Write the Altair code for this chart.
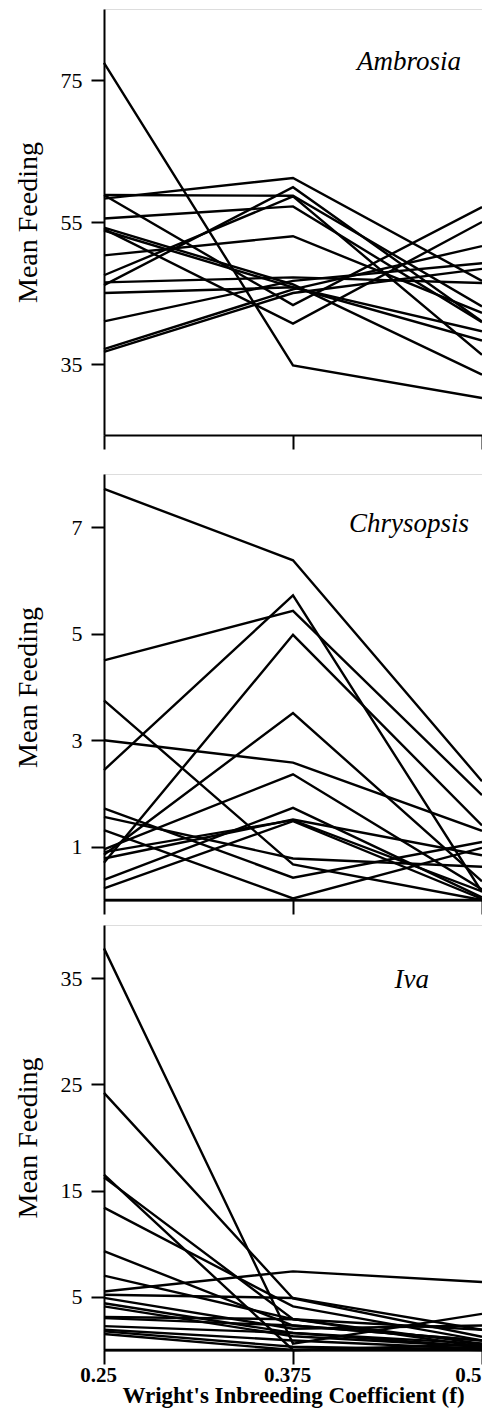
import altair as alt
import pandas as pd

F = [0.25, 0.375, 0.5]

# Ambrosia lines: values at f = 0.25, 0.375, 0.5
amb_025 = [77.4, 58.3, 58.8, 58.8, 55.5, 54.2, 54.0, 50.3, 47.5, 46.1, 46.5, 45.0, 41.0, 37.1, 36.7, 53.8]
amb_0375 = [34.8, 61.2, 58.7, 43.3, 57.2, 46.2, 40.7, 53.0, 58.6, 59.9, 47.2, 45.8, 46.7, 45.5, 45.0, 45.8]
amb_05 = [30.2, 46.7, 43.1, 57.1, 40.9, 33.5, 55.0, 42.2, 36.3, 41.0, 46.4, 38.3, 49.2, 51.6, 48.4, 39.6]

# Chrysopsis
chr_025 = [7.72, 4.5, 2.44, 0.7, 0.85, 3.0, 3.75, 0.95, 1.56, 0.38, 1.72, 1.31, 0.22, 0.78, 0.9, 0.0]
chr_0375 = [6.38, 5.43, 5.72, 4.98, 3.51, 2.58, 0.67, 2.36, 0.78, 1.73, 0.42, 0.03, 1.48, 1.51, 1.5, 0.0]
chr_05 = [2.23, 1.97, 0.15, 1.40, 0.35, 1.30, 0.0, 0.2, 0.625, 0.05, 1.09, 0.98, 0.02, 0.84, 0.16, 0.0]

# Iva
iva_025 = [37.8, 24.2, 16.5, 16.25, 13.4, 9.3, 7.0, 5.5, 5.2, 4.9, 4.4, 4.1, 3.1, 3.0, 2.25, 1.9, 1.75, 1.5, 0.0]
iva_0375 = [0.6, 4.85, 0.0, 2.9, 4.1, 2.3, 2.9, 7.4, 4.9, 2.0, 1.6, 1.3, 2.9, 2.3, 1.6, 0.9, 0.3, 0.0, 0.0]
iva_05 = [3.4, 1.25, 0.2, 0.6, 0.9, 0.9, 0.3, 6.4, 1.9, 2.3, 0.6, 0.3, 1.9, 0.9, 0.3, 0.1, 0.0, 0.5, 0.0]

SERIF = "Liberation Serif"


def long_df(a, b, c):
    rows = []
    for i, vals in enumerate(zip(a, b, c)):
        for f, v in zip(F, vals):
            rows.append({"line": i, "f": f, "value": v})
    return pd.DataFrame(rows)


def panel(df, name, ymin, ymax, yticks, height, show_x_labels, name_x, name_y):
    x_axis = alt.Axis(
        values=F,
        labels=show_x_labels,
        format=".3~f",
        title="Wright's Inbreeding Coefficient (f)" if show_x_labels else None,
        tickSize=14,
        tickWidth=2,
        domainWidth=2,
        domainColor="black",
        tickColor="black",
        grid=False,
        labelFont=SERIF,
        labelFontSize=21,
        labelFontWeight="bold",
        labelColor="black",
        labelPadding=0,
        labelAlign=alt.ConditionalAxisLabelAlign(
            condition={"test": "datum.value >= 0.5", "value": "right"}, value="center"
        ),
        labelOffset=alt.ConditionalAxisNumber(
            condition={"test": "datum.value >= 0.5", "value": -1}, value=-6
        ),
        titleFont=SERIF,
        titleFontSize=23,
        titleFontWeight="bold",
        titleColor="black",
        titlePadding=-1,
        labelFlush=False,
    )
    y_axis = alt.Axis(
        values=yticks,
        title="Mean Feeding",
        tickSize=13,
        tickWidth=2,
        domainWidth=2,
        domainColor="black",
        tickColor="black",
        grid=False,
        labelFont=SERIF,
        labelFontSize=22,
        labelColor="black",
        labelPadding=9,
        titleFont=SERIF,
        titleFontSize=28,
        titleFontWeight="normal",
        titleColor="black",
        titleX=-62,
        titleY=height / 2,
    )
    lines = alt.Chart(df).mark_line(color="black", strokeWidth=2.4).encode(
        x=alt.X("f:Q", scale=alt.Scale(domain=[0.25, 0.5], nice=False, zero=False), axis=x_axis),
        y=alt.Y("value:Q", scale=alt.Scale(domain=[ymin, ymax], nice=False, zero=False), axis=y_axis),
        detail="line:N",
    )
    label = alt.Chart(pd.DataFrame({"name": [name]})).mark_text(
        font=SERIF, fontSize=27, fontStyle="italic", align="right", baseline="middle", color="black"
    ).encode(text="name:N", x=alt.value(name_x), y=alt.value(name_y))
    return alt.layer(lines, label).properties(width=378, height=height)


p1 = panel(long_df(amb_025, amb_0375, amb_05), "Ambrosia", 25, 85, [35, 55, 75], 426, False, 357, 53)
p2 = panel(long_df(chr_025, chr_0375, chr_05), "Chrysopsis", 0, 8, [1, 3, 5, 7], 426, False, 365, 50)
p3 = panel(long_df(iva_025, iva_0375, iva_05), "Iva", 0, 40, [5, 15, 25, 35], 425, True, 325, 55)

chart = alt.vconcat(
    alt.vconcat(p1, p2, spacing=22),
    p3,
    spacing=8,
).properties(
    padding={"left": 5, "top": 0, "right": -6, "bottom": 6}
).configure_view(stroke=None).configure(background="white")

chart.save("out.html", embed_options={"renderer": "svg", "actions": False})
